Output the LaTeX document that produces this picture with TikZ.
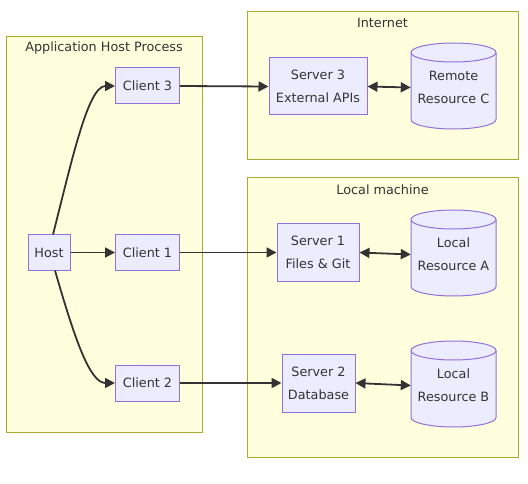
\documentclass[tikz,border=0pt]{standalone}
\usepackage{fontspec}
\setmainfont{DejaVu Sans}
\usetikzlibrary{arrows.meta}
\definecolor{nodefill}{HTML}{ECECFF}
\definecolor{nodeline}{HTML}{9370DB}
\definecolor{clfill}{HTML}{FFFFDE}
\definecolor{clline}{HTML}{AAAA33}
\definecolor{txt}{HTML}{333333}
\tikzset{
  box/.style={draw=nodeline, fill=nodefill, line width=1pt, inner sep=0pt, align=center, text=txt},
  cluster/.style={draw=clline, fill=clfill, line width=1pt},
  cltitle/.style={text=txt, inner sep=0pt},
  cylbody/.style={draw=nodeline, fill=nodefill, line width=1pt},
  cyltext/.style={draw=none, inner sep=0pt, align=center, text=txt, minimum width=85pt, minimum height=86pt},
  conn/.style={draw=txt, line width=1.8pt, -{Triangle[length=10pt,width=10pt]}},
  biconn/.style={draw=txt, line width=1.8pt, {Triangle[length=10pt,width=10pt]}-{Triangle[length=10pt,width=10pt]}},
}
\newcommand{\mycyl}[4]{% name, cx, cy, text
  \path[cylbody] (#2-42.5,#3-33.5) -- (#2-42.5,#3+33.5)
     arc[start angle=180, end angle=0, x radius=42.5, y radius=9.5]
     -- (#2+42.5,#3-33.5)
     arc[start angle=0, end angle=-180, x radius=42.5, y radius=9.5] -- cycle;
  \draw[nodeline, line width=1pt] (#2-42.5,#3-33.5)
     arc[start angle=180, end angle=0, x radius=42.5, y radius=9.5];
  \node[cyltext] (#1) at (#2,#3+1.5) {#4};
}
\begin{document}
\begin{tikzpicture}[x=1pt, y=-1pt, font=\fontsize{12.8}{23}\selectfont]
\useasboundingbox (0,0) rectangle (528,484);
% clusters
\draw[cluster] (6,37) rectangle (202,432);
\node[cltitle] (tApp) at (104,48) {Application Host Process};
\draw[cluster] (247,12) rectangle (518,160);
\node[cltitle] (tNet) at (382.5,23) {Internet};
\draw[cluster] (247,178) rectangle (518,457);
\node[cltitle] (tLoc) at (382.5,190) {Local machine};
% nodes
\node[box, minimum width=42pt, minimum height=35pt] (host) at (49,252.5) {Host};
\node[box, minimum width=64pt, minimum height=36pt] (c3) at (147.5,86) {Client 3};
\node[box, minimum width=64pt, minimum height=35pt] (c1) at (147.5,252.5) {Client 1};
\node[box, minimum width=64pt, minimum height=36pt] (c2) at (147.5,383) {Client 2};
\node[box, minimum width=98pt, minimum height=57pt] (s3) at (318,86.5) {Server 3\\External APIs};
\node[box, minimum width=82pt, minimum height=57pt] (s1) at (318,252.5) {Server 1\\Files \& Git};
\node[box, minimum width=73pt, minimum height=58pt] (s2) at (318.5,383) {Server 2\\Database};
\mycyl{rc}{453.5}{86}{Remote\\Resource C}
\mycyl{ra}{453.5}{253}{Local\\Resource A}
\mycyl{rb}{453.5}{384}{Local\\Resource B}
% edges
\draw[conn] ([xshift=4pt]host.north) .. controls (72,160) and (88,86) .. (c3.west);
\draw[conn] (host.east) -- (c1.west);
\draw[conn] ([xshift=6pt]host.south) .. controls (75,340) and (90,383) .. (c2.west);
\draw[conn] (c3.east) -- (s3.west);
\draw[conn] (c1.east) -- (s1.west);
\draw[conn] (c2.east) -- (s2.west);
\draw[biconn] (s3.east) -- (rc.west);
\draw[biconn] (s1.east) -- (ra.west);
\draw[biconn] (s2.east) -- (rb.west);
\end{tikzpicture}
\end{document}
